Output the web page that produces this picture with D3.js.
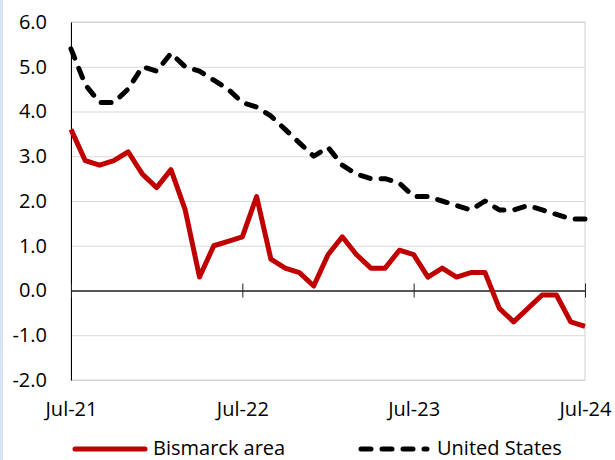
<!DOCTYPE html>
<html>
<head>
<meta charset="utf-8">
<script src="https://cdn.jsdelivr.net/npm/d3@7"></script>
<style>
  body { margin: 0; background: #fff; }
  svg text { font-family: "Open Sans", "Liberation Sans", sans-serif; fill: #000; }
</style>
</head>
<body>
<svg id="chart"></svg>
<script>
// monthly categories, Jul-21 .. Jul-24
var months = ["Jul-21","Aug-21","Sep-21","Oct-21","Nov-21","Dec-21",
              "Jan-22","Feb-22","Mar-22","Apr-22","May-22","Jun-22",
              "Jul-22","Aug-22","Sep-22","Oct-22","Nov-22","Dec-22",
              "Jan-23","Feb-23","Mar-23","Apr-23","May-23","Jun-23",
              "Jul-23","Aug-23","Sep-23","Oct-23","Nov-23","Dec-23",
              "Jan-24","Feb-24","Mar-24","Apr-24","May-24","Jun-24","Jul-24"];

var bismarck = [3.6, 2.9, 2.8, 2.9, 3.1, 2.6,
                2.3, 2.7, 1.8, 0.3, 1.0, 1.1,
                1.2, 2.1, 0.7, 0.5, 0.4, 0.1,
                0.8, 1.2, 0.8, 0.5, 0.5, 0.9,
                0.8, 0.3, 0.5, 0.3, 0.4, 0.4,
                -0.4, -0.7, -0.4, -0.1, -0.1, -0.7, -0.8];

var unitedStates = [5.4, 4.6, 4.2, 4.2, 4.5, 5.0,
                    4.9, 5.3, 5.0, 4.9, 4.7, 4.5,
                    4.2, 4.1, 3.9, 3.6, 3.3, 3.0,
                    3.2, 2.8, 2.6, 2.5, 2.5, 2.4,
                    2.1, 2.1, 2.0, 1.9, 1.8, 2.0,
                    1.8, 1.8, 1.9, 1.8, 1.7, 1.6, 1.6];

var yTicks = [-2, -1, 0, 1, 2, 3, 4, 5, 6];
var xTickLabels = ["Jul-21", "Jul-22", "Jul-23", "Jul-24"];

var screen = {width: 615, height: 460};
var margins = {left: 71, right: 30, top: 22, bottom: 80};
var graph = {
    width: screen.width - margins.left - margins.right,
    height: screen.height - margins.top - margins.bottom
};

var svg = d3.select("#chart")
    .attr("width", screen.width)
    .attr("height", screen.height);

// light blue strip on the left edge
svg.append("rect")
    .attr("x", 0).attr("y", 0)
    .attr("width", 3).attr("height", screen.height)
    .attr("fill", "#dae3f3");

var xScale = d3.scaleLinear()
    .domain([0, months.length - 1])
    .range([0, graph.width]);

var yScale = d3.scaleLinear()
    .domain([-2, 6])
    .range([graph.height, 0]);

var g = svg.append("g")
    .attr("transform", "translate(" + margins.left + "," + margins.top + ")");

// gridlines
var grid = g.append("g")
    .call(d3.axisLeft(yScale).tickValues(yTicks).tickSize(-graph.width).tickFormat(""));
grid.select(".domain").remove();
grid.selectAll("line").attr("stroke", "#d9d9d9").attr("stroke-width", 1);

// plot border (top / right / bottom)
g.append("rect")
    .attr("x", 0).attr("y", 0)
    .attr("width", graph.width).attr("height", graph.height)
    .attr("fill", "none")
    .attr("stroke", "#d0d0d0");

// y axis labels + black axis line
var yAxis = g.append("g")
    .call(d3.axisLeft(yScale).tickValues(yTicks).tickSize(0).tickPadding(24)
        .tickFormat(function(d){ return d.toFixed(1); }));
yAxis.select(".domain").attr("stroke", "#000");
yAxis.selectAll("text").style("font-size", "20px");

// zero line with crossing ticks
var tickIdx = xTickLabels.map(function(l){ return months.indexOf(l); });
var zeroDown = g.append("g")
    .attr("transform", "translate(0," + yScale(0) + ")")
    .call(d3.axisBottom(xScale).tickValues(tickIdx).tickSizeInner(7).tickSizeOuter(0).tickFormat(""));
var zeroUp = g.append("g")
    .attr("transform", "translate(0," + yScale(0) + ")")
    .call(d3.axisTop(xScale).tickValues(tickIdx).tickSizeInner(7).tickSizeOuter(0).tickFormat(""));
[zeroDown, zeroUp].forEach(function(a){
    a.selectAll("line").attr("stroke", "#222");
    a.select(".domain").attr("stroke", "#222");
});

// x labels at the bottom of the plot
var xLabels = g.append("g")
    .attr("transform", "translate(0," + graph.height + ")")
    .call(d3.axisBottom(xScale).tickValues(tickIdx).tickSize(0).tickPadding(22)
        .tickFormat(function(d){ return months[d]; }));
xLabels.select(".domain").remove();
xLabels.selectAll("text").style("font-size", "20px");

// series
var line = function(values){
    return d3.line()
        .x(function(d, i){ return xScale(i); })
        .y(function(d){ return yScale(d); })(values);
};

g.append("path")
    .attr("d", line(bismarck))
    .attr("fill", "none")
    .attr("stroke", "#c00000")
    .attr("stroke-width", 5)
    .attr("stroke-linejoin", "round");

g.append("path")
    .attr("d", line(unitedStates))
    .attr("fill", "none")
    .attr("stroke", "#000")
    .attr("stroke-width", 5)
    .attr("stroke-dasharray", "10,11")
    .attr("stroke-linecap", "round")
    .attr("stroke-linejoin", "round");

// legend
var legend = svg.append("g");
legend.append("line")
    .attr("x1", 75).attr("x2", 145).attr("y1", 449).attr("y2", 449)
    .attr("stroke", "#c00000").attr("stroke-width", 5).attr("stroke-linecap", "round");
legend.append("text")
    .attr("x", 153).attr("y", 455)
    .style("font-size", "20px")
    .text("Bismarck area");
legend.append("line")
    .attr("x1", 361).attr("x2", 427).attr("y1", 449).attr("y2", 449)
    .attr("stroke", "#000").attr("stroke-width", 5)
    .attr("stroke-dasharray", "10,11").attr("stroke-linecap", "round");
legend.append("text")
    .attr("x", 437).attr("y", 455)
    .style("font-size", "20px")
    .text("United States");
</script>
</body>
</html>
